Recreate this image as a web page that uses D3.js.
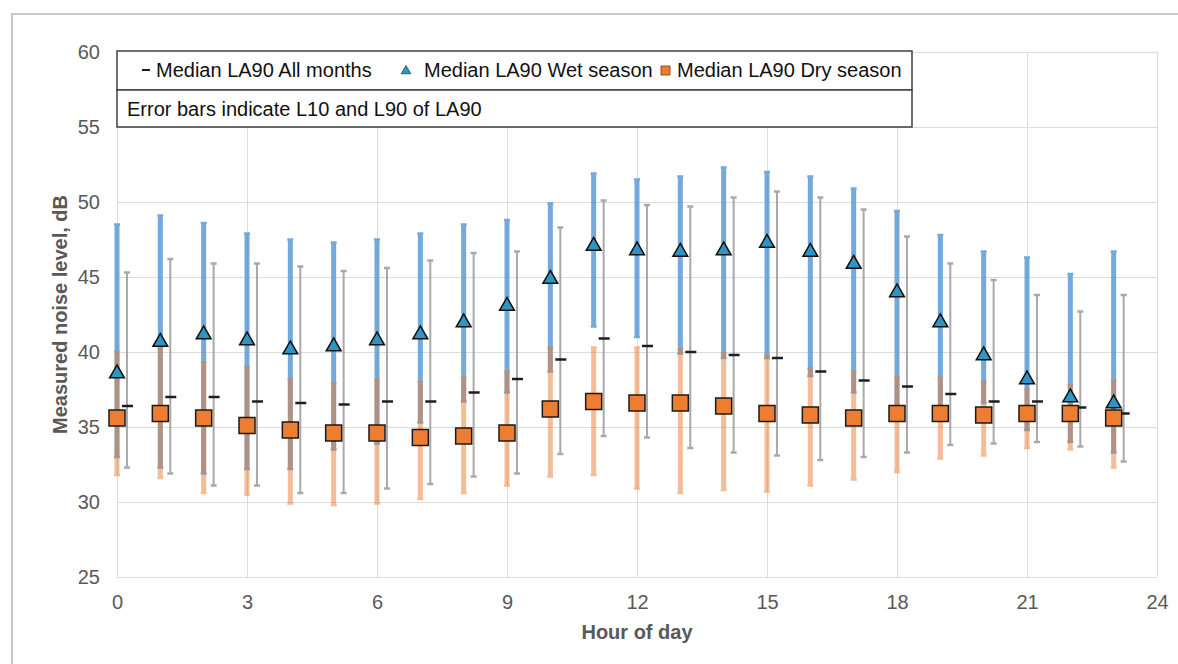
<!DOCTYPE html>
<html>
<head>
<meta charset="utf-8">
<script src="https://cdn.jsdelivr.net/npm/d3@7"></script>
<style>
  body { margin: 0; background: #fff; }
  svg { display: block; font-family: "Liberation Sans", Arial, sans-serif; }
</style>
</head>
<body>
<svg id="chart" width="1178" height="664"></svg>
<script>
const hours = [0, 1, 2, 3, 4, 5, 6, 7, 8, 9, 10, 11, 12, 13, 14, 15, 16, 17, 18, 19, 20, 21, 22, 23];

// all months (median, L10 upper, L90 lower)
const allMedian = [36.4, 37.0, 37.0, 36.7, 36.6, 36.5, 36.7, 36.7, 37.3, 38.2, 39.5, 40.9, 40.4, 40.0, 39.8, 39.6, 38.7, 38.1, 37.7, 37.2, 36.7, 36.7, 36.3, 35.9];
const allHi = [45.3, 46.2, 45.9, 45.9, 45.7, 45.4, 45.6, 46.1, 46.6, 46.7, 48.3, 50.1, 49.8, 49.7, 50.3, 50.7, 50.3, 49.5, 47.7, 45.9, 44.8, 43.8, 42.7, 43.8];
const allLo = [32.3, 31.9, 31.1, 31.1, 30.6, 30.6, 30.9, 31.2, 31.7, 31.9, 33.2, 34.4, 34.3, 33.6, 33.3, 33.1, 32.8, 33.0, 33.3, 33.8, 33.9, 34.0, 33.7, 32.7];

// wet season
const wetMedian = [38.5, 40.6, 41.1, 40.7, 40.1, 40.3, 40.7, 41.1, 41.9, 43.0, 44.8, 47.0, 46.7, 46.6, 46.7, 47.2, 46.6, 45.8, 43.9, 41.9, 39.7, 38.1, 36.9, 36.5];
const wetHi = [48.5, 49.1, 48.6, 47.9, 47.5, 47.3, 47.5, 47.9, 48.5, 48.8, 49.9, 51.9, 51.5, 51.7, 52.3, 52.0, 51.7, 50.9, 49.4, 47.8, 46.7, 46.3, 45.2, 46.7];
const wetLo = [33.0, 32.3, 31.9, 32.2, 32.2, 33.5, 33.9, 35.3, 36.7, 37.3, 38.7, 41.7, 41.0, 39.9, 39.6, 39.6, 38.4, 37.3, 36.2, 36.0, 36.6, 34.8, 34.0, 33.3];

// dry season
const dryMedian = [35.6, 35.9, 35.6, 35.1, 34.8, 34.6, 34.6, 34.3, 34.4, 34.6, 36.2, 36.7, 36.6, 36.6, 36.4, 35.9, 35.8, 35.6, 35.9, 35.9, 35.8, 35.9, 35.9, 35.6];
const dryHi = [40.0, 40.3, 39.3, 39.0, 38.2, 37.9, 38.1, 38.0, 38.3, 38.7, 40.3, 40.3, 40.3, 40.2, 39.9, 39.8, 38.9, 38.7, 38.3, 38.3, 38.0, 37.5, 37.8, 38.1];
const dryLo = [31.8, 31.6, 30.6, 30.5, 29.9, 29.8, 29.9, 30.2, 30.6, 31.1, 31.7, 31.8, 30.9, 30.6, 30.8, 30.7, 31.1, 31.5, 32.0, 32.9, 33.1, 33.6, 33.5, 32.3];

const xTicks = [0, 3, 6, 9, 12, 15, 18, 21, 24];
const yTicks = [25, 30, 35, 40, 45, 50, 55, 60];
const allOffset = 0.23;

const svg = d3.select("#chart");

const plotLeft = 117, plotRight = 1157, plotTop = 52, plotBottom = 577;

const x = d3.scaleLinear().domain([0, 24]).range([plotLeft, plotRight]);
const y = d3.scaleLinear().domain([25, 60]).range([plotBottom, plotTop]);

// outer frame
svg.append("rect")
    .attr("x", 12).attr("y", 14)
    .attr("width", 1200).attr("height", 700)
    .attr("fill", "none")
    .attr("stroke", "#c8c8c8")
    .attr("stroke-width", 2);

// grid + axes
const yAxis = svg.append("g")
    .attr("transform", `translate(${plotLeft},0)`)
    .call(d3.axisLeft(y).tickValues(yTicks).tickSize(-(plotRight - plotLeft)).tickPadding(17));
const xAxis = svg.append("g")
    .attr("transform", `translate(0,${plotBottom})`)
    .call(d3.axisBottom(x).tickValues(xTicks).tickSize(-(plotBottom - plotTop)).tickPadding(18));

[xAxis, yAxis].forEach(g => {
    g.select(".domain").remove();
    g.selectAll("line").attr("stroke", "#dcdcdc").attr("stroke-width", 1);
    g.selectAll("text")
        .attr("fill", "#595959")
        .style("font-size", "20px");
});

const rows = hours.map((h, i) => ({
    h,
    all: [allLo[i], allMedian[i], allHi[i]],
    wet: [wetLo[i], wetMedian[i], wetHi[i]],
    dry: [dryLo[i], dryMedian[i], dryHi[i]]
}));

function errorBars(key, dx, color, opacity, width, cap) {
    const g = svg.append("g").attr("opacity", opacity);
    rows.forEach(d => {
        const cx = x(d.h + dx);
        g.append("line")
            .attr("x1", cx).attr("x2", cx)
            .attr("y1", y(d[key][0])).attr("y2", y(d[key][2]))
            .attr("stroke", color).attr("stroke-width", width);
        [d[key][0], d[key][2]].forEach(v => {
            g.append("line")
                .attr("x1", cx - cap).attr("x2", cx + cap)
                .attr("y1", y(v)).attr("y2", y(v))
                .attr("stroke", color).attr("stroke-width", 2.5);
        });
    });
}

errorBars("all", allOffset, "#a0a0a0", 0.9, 2, 3);
errorBars("wet", 0, "#5b9bd5", 0.85, 5, 3);
errorBars("dry", 0, "#ed7d31", 0.5, 5, 3);

// all months median dash
svg.append("g").selectAll("line")
    .data(rows)
    .enter()
    .append("line")
    .attr("x1", d => x(d.h + allOffset) - 5)
    .attr("x2", d => x(d.h + allOffset) + 6)
    .attr("y1", d => y(d.all[1]))
    .attr("y2", d => y(d.all[1]))
    .attr("stroke", "#1e1e1e")
    .attr("stroke-width", 2.5);

// wet triangles
const tri = d3.symbol().type(d3.symbolTriangle).size(95);
svg.append("g").selectAll("path")
    .data(rows)
    .enter()
    .append("path")
    .attr("d", tri)
    .attr("transform", d => `translate(${x(d.h)},${y(d.wet[1]) - 1})`)
    .attr("fill", "#2e96c4")
    .attr("stroke", "#111")
    .attr("stroke-width", 1.5);

// dry squares
svg.append("g").selectAll("rect")
    .data(rows)
    .enter()
    .append("rect")
    .attr("x", d => x(d.h) - 8)
    .attr("y", d => y(d.dry[1]) - 8)
    .attr("width", 16).attr("height", 16)
    .attr("fill", "#ed7d31")
    .attr("stroke", "#1a1a1a")
    .attr("stroke-width", 1.5);

// axis titles
svg.append("text")
    .attr("x", (plotLeft + plotRight) / 2).attr("y", 639)
    .attr("text-anchor", "middle")
    .attr("fill", "#595959")
    .attr("font-weight", "bold")
    .style("font-size", "20px")
    .text("Hour of day");

svg.append("text")
    .attr("transform", `translate(67,${(plotTop + plotBottom) / 2}) rotate(-90)`)
    .attr("text-anchor", "middle")
    .attr("fill", "#595959")
    .attr("font-weight", "bold")
    .style("font-size", "20px")
    .text("Measured noise level, dB");

// legend boxes
const legX = 117, legW = 795;
svg.append("rect")
    .attr("x", legX).attr("y", 51).attr("width", legW).attr("height", 39)
    .attr("fill", "#fff").attr("stroke", "#404040").attr("stroke-width", 1.5);
svg.append("rect")
    .attr("x", legX).attr("y", 90).attr("width", legW).attr("height", 37)
    .attr("fill", "#fff").attr("stroke", "#404040").attr("stroke-width", 1.5);

const legend = svg.append("g").style("font-size", "20px").attr("fill", "#111");

legend.append("line")
    .attr("x1", 142).attr("x2", 150).attr("y1", 70).attr("y2", 70)
    .attr("stroke", "#1e1e1e").attr("stroke-width", 2);
legend.append("text").attr("x", 156).attr("y", 77).text("Median LA90 All months");

legend.append("path")
    .attr("d", d3.symbol().type(d3.symbolTriangle).size(40))
    .attr("transform", "translate(406,71)")
    .attr("fill", "#2e96c4").attr("stroke", "#1a4a60").attr("stroke-width", 0.8);
legend.append("text").attr("x", 424).attr("y", 77).text("Median LA90 Wet season");

legend.append("rect")
    .attr("x", 661).attr("y", 66).attr("width", 9).attr("height", 9)
    .attr("fill", "#ed7d31").attr("stroke", "#7a3a10").attr("stroke-width", 0.8);
legend.append("text").attr("x", 677).attr("y", 77).text("Median LA90 Dry season");

legend.append("text").attr("x", 127).attr("y", 116).text("Error bars indicate L10 and L90 of LA90");
</script>
</body>
</html>
